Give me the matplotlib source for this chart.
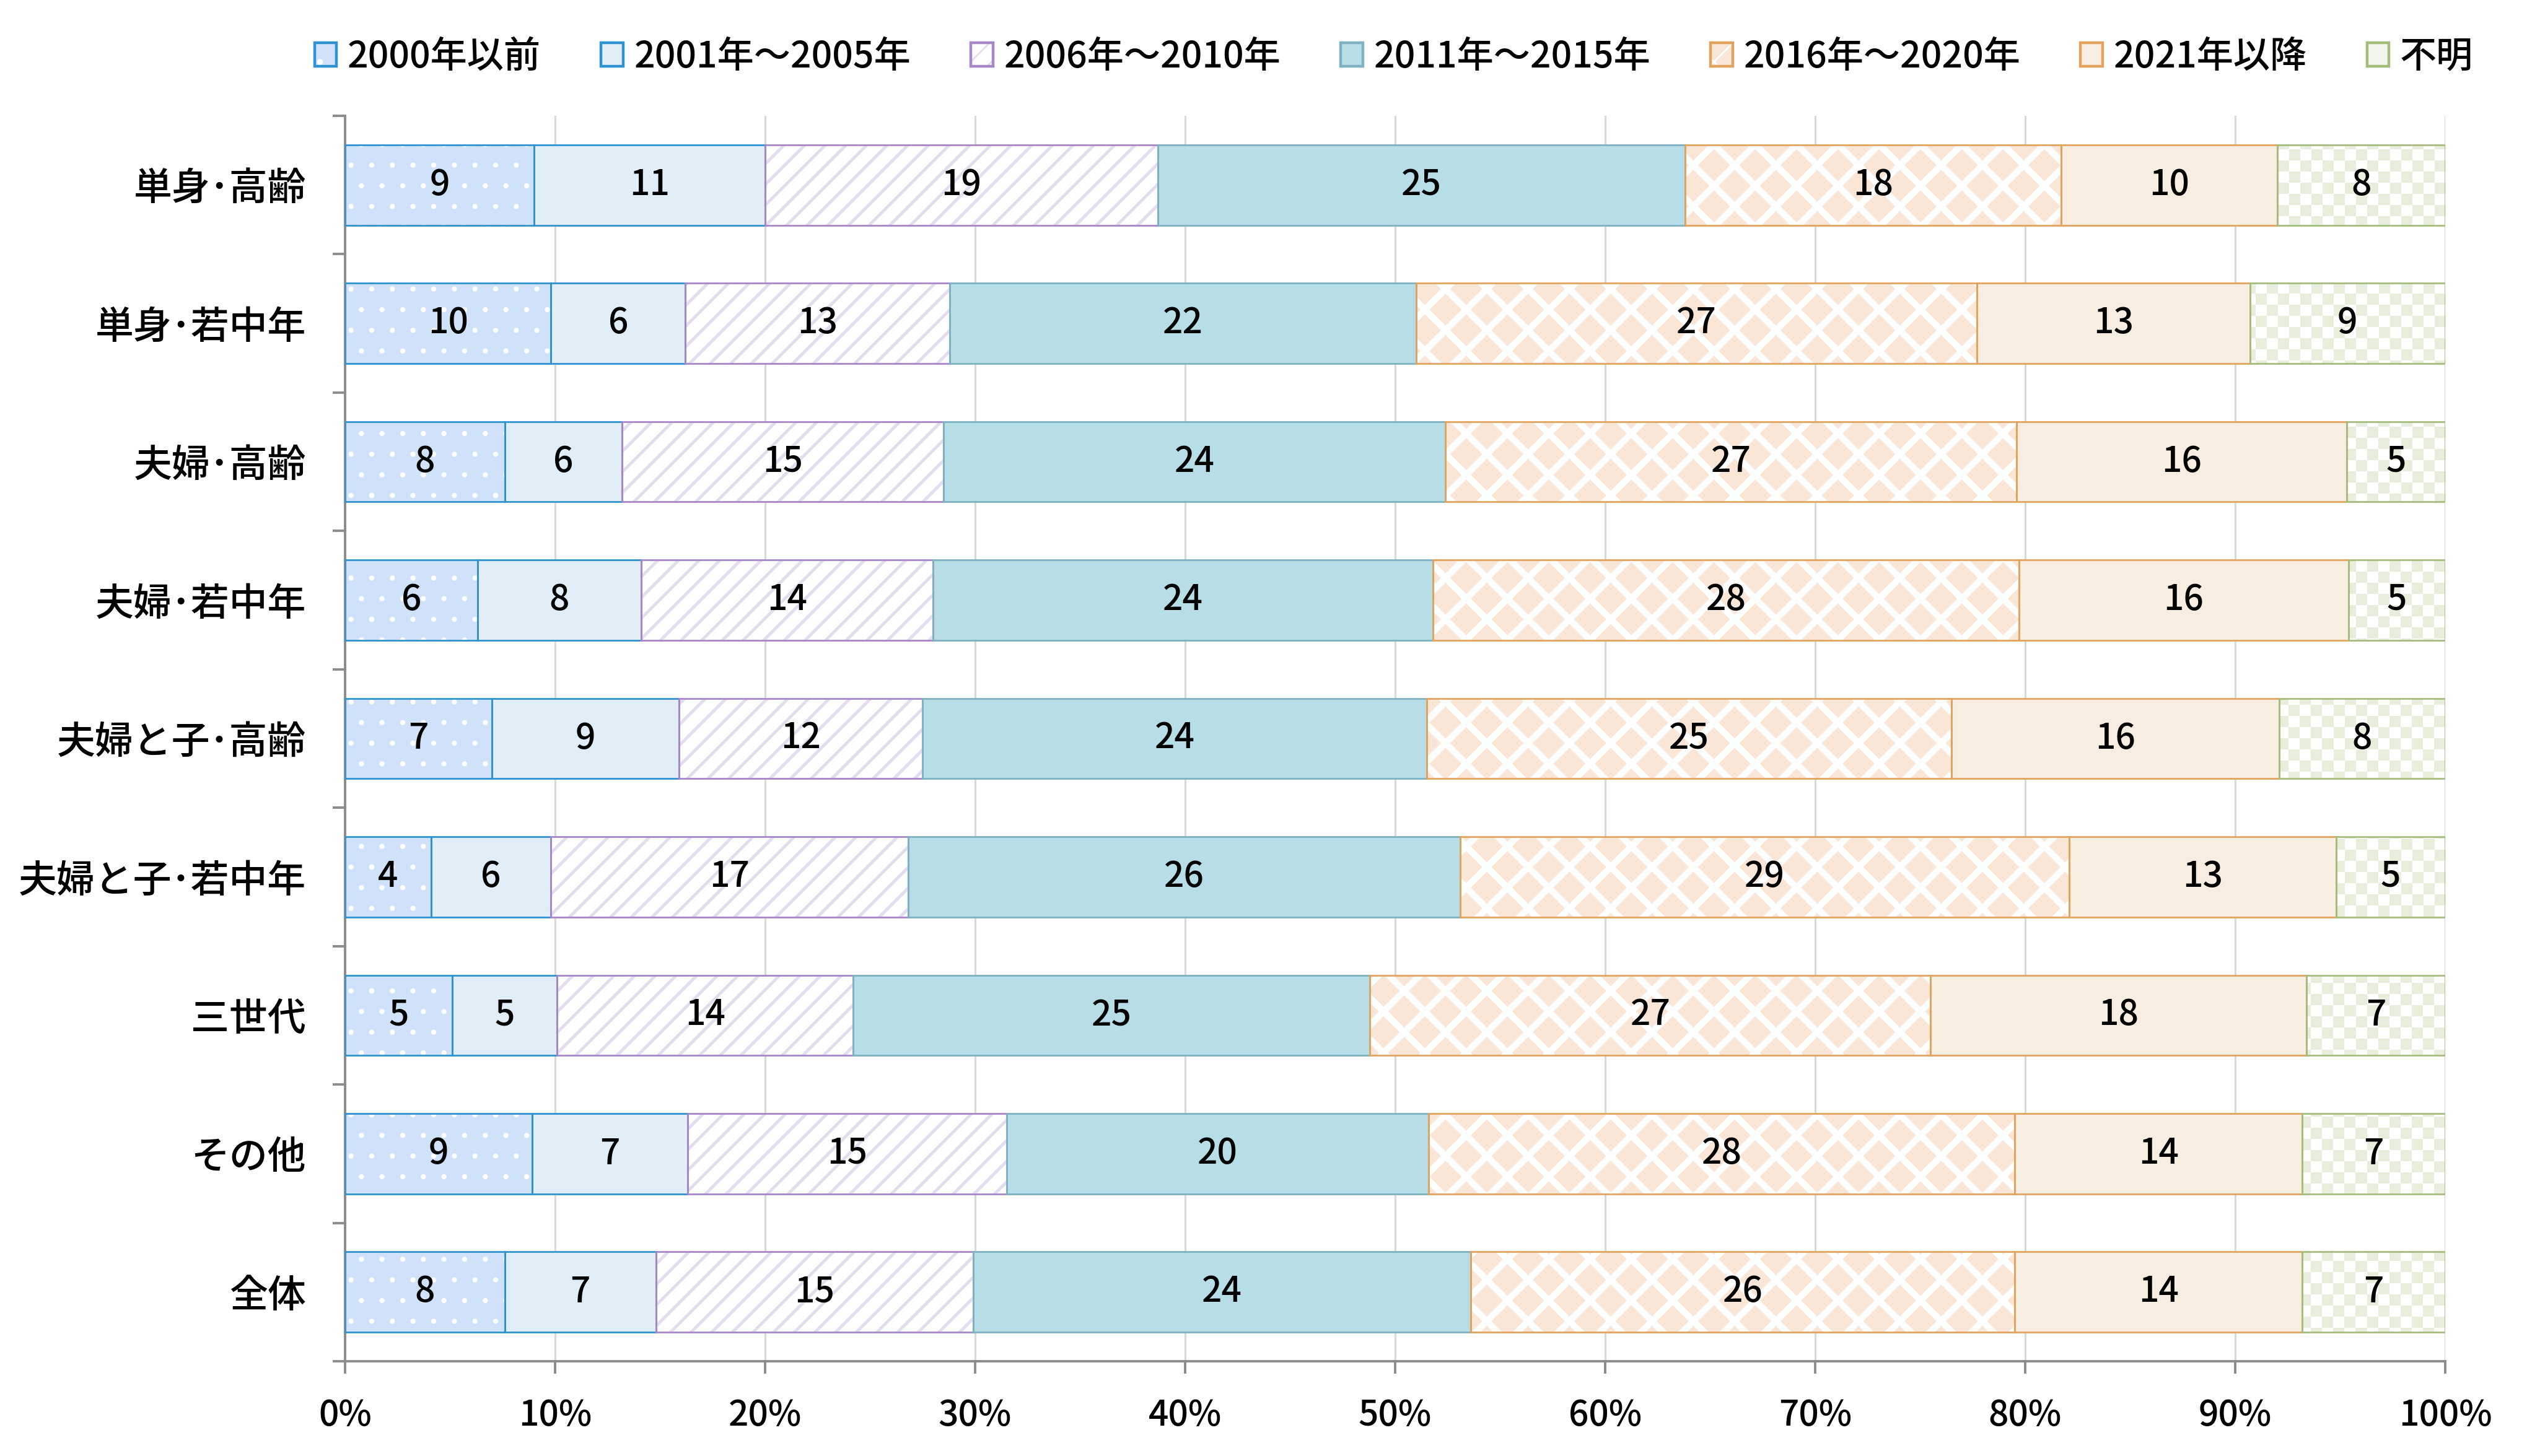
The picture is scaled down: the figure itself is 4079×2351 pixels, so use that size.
import numpy as np
import matplotlib
matplotlib.use('Agg')
import matplotlib.pyplot as plt
from matplotlib.patches import Patch
from matplotlib.legend_handler import HandlerTuple
from matplotlib.colors import to_rgb

plt.rcParams['font.family'] = ['Noto Sans CJK JP', 'DejaVu Sans']

# ---------------- data ----------------
categories = ['単身･高齢', '単身･若中年', '夫婦･高齢', '夫婦･若中年', '夫婦と子･高齢',
              '夫婦と子･若中年', '三世代', 'その他', '全体']
series_names = ['2000年以前', '2001年～2005年', '2006年～2010年', '2011年～2015年',
                '2016年～2020年', '2021年以降', '不明']
s2000 = [9.0, 9.8, 7.6, 6.3, 7.0, 4.1, 5.1, 8.9, 7.6]
s2001 = [11.0, 6.4, 5.6, 7.8, 8.9, 5.7, 5.0, 7.4, 7.2]
s2006 = [18.7, 12.6, 15.3, 13.9, 11.6, 17.0, 14.1, 15.2, 15.1]
s2011 = [25.1, 22.2, 23.9, 23.8, 24.0, 26.3, 24.6, 20.1, 23.7]
s2016 = [17.9, 26.7, 27.2, 27.9, 25.0, 29.0, 26.7, 27.9, 25.9]
s2021 = [10.3, 13.0, 15.7, 15.7, 15.6, 12.7, 17.9, 13.7, 13.7]
s_unknown = [8.0, 9.3, 4.7, 4.6, 7.9, 5.2, 6.6, 6.8, 6.8]
x_ticks = [0, 10, 20, 30, 40, 50, 60, 70, 80, 90, 100]
x_tick_labels = [f'{t}%' for t in x_ticks]

series_values = [s2000, s2001, s2006, s2011, s2016, s2021, s_unknown]

# ---------------- styles ----------------
# (face, hatch, hatch colour, hatch linewidth, border colour, legend face)
styles = [
    ('#cfe2fa', '.', '#ffffff', 0.6, '#2f93d1', '#cfe2fa'),
    ('#e1eef8', None, None, 0, '#2f93d1', '#e1eef8'),
    ('#ffffff', '//', '#e4ddef', 1.8, '#a886c9', '#ffffff'),
    ('#b7dde7', None, None, 0, '#7cb2c2', '#b7dde7'),
    ('#f9e6d6', 'x', '#ffffff', 3.8, '#e3a35c', '#fdf3ea'),
    ('#f7ede1', None, None, 0, '#e3a35c', '#f7ede1'),
    ('#ffffff', 'checker', '#e7eedb', 0, '#a4bd7c', '#f2f6ec'),
]

W, H, DPI = 4079, 2351, 200
fig = plt.figure(figsize=(W / DPI, H / DPI), dpi=DPI)
ax = fig.add_axes([557 / W, 1 - 2198 / H, (3947 - 557) / W, (2198 - 187) / H])

FS_NUM = 20.5
FS_CAT = 22.3
FS_LEG = 21.3
WEIGHT = 'medium'
n = len(categories)
y = np.arange(n)
bar_h = 0.58
left = np.zeros(n)
gray = '#8c8c8c'

ax.set_xlim(0, 100)
ax.set_ylim(n - 0.5, -0.5)

legend_handles = []
for vals, name, (face, hatch, hcol, hlw, border, lface) in zip(series_values, series_names, styles):
    vals = np.array(vals)
    if hatch is not None and hatch != 'checker':
        with plt.rc_context({'hatch.linewidth': hlw}):
            fill = ax.barh(y, vals, left=left, height=bar_h, color=face,
                           edgecolor=hcol, linewidth=0, hatch=hatch, zorder=2)
        for p in fill.patches:
            if hasattr(p, 'set_hatch_linewidth'):
                p.set_hatch_linewidth(hlw)
    else:
        fill = ax.barh(y, vals, left=left, height=bar_h, color=face,
                       linewidth=0, zorder=2)
    if hatch == 'checker':
        ny, nx = 112, 188
        ii, jj = np.mgrid[0:ny, 0:nx]
        mask = ((ii + jj) % 2).astype(float)[..., None]
        c1 = np.array(to_rgb(hcol))
        c0 = np.array([1.0, 1.0, 1.0])
        img = mask * c1 + (1 - mask) * c0
        for p in fill.patches:
            im = ax.imshow(img, extent=(0, 100, n - 0.5, -0.5), aspect='auto',
                           interpolation='nearest', zorder=2.5)
            im.set_clip_path(p)
    ax.barh(y, vals, left=left, height=bar_h, facecolor='none',
            edgecolor=border, linewidth=1.0, zorder=3)
    for yi, l, v in zip(y, left, vals):
        ax.text(l + v / 2, yi, f'{round(v)}', ha='center', va='center',
                fontsize=FS_NUM, fontweight=WEIGHT, color='black', zorder=4)
    left = left + vals

    # legend proxy
    if hatch is not None and hatch != 'checker':
        with plt.rc_context({'hatch.linewidth': hlw}):
            ph = Patch(facecolor=face, edgecolor=hcol, linewidth=0, hatch=hatch)
        if hasattr(ph, 'set_hatch_linewidth'):
            ph.set_hatch_linewidth(hlw)
    else:
        ph = Patch(facecolor=lface, linewidth=0)
    pb = Patch(facecolor='none', edgecolor=border, linewidth=1.6)
    legend_handles.append((ph, pb))

ax.set_xlim(0, 100)
ax.set_ylim(n - 0.5, -0.5)

# axes styling
ax.set_axisbelow(True)
ax.xaxis.grid(True, color='#d9d9d9', linewidth=1.1, zorder=0)
ax.yaxis.grid(False)
for s in ['top', 'right']:
    ax.spines[s].set_visible(False)
for s in ['left', 'bottom']:
    ax.spines[s].set_color(gray)
    ax.spines[s].set_linewidth(1.4)

ax.set_xticks(x_ticks)
ax.set_xticklabels(x_tick_labels, fontsize=FS_NUM, fontweight=WEIGHT)
ax.tick_params(axis='x', direction='out', length=7.2, width=1.4, color=gray, pad=14)

ax.set_yticks(y)
ax.set_yticklabels(categories, fontsize=FS_CAT, fontweight=WEIGHT)
ax.tick_params(axis='y', which='major', length=0, pad=22.7)
ax.set_yticks(np.arange(-0.5, n + 0.5, 1), minor=True)
ax.tick_params(axis='y', which='minor', direction='out', length=7.2, width=1.4, color=gray)

fig.legend(legend_handles, series_names, loc='center',
           bbox_to_anchor=(2250 / W, 1 - 92 / H), ncol=7, frameon=False,
           handlelength=0.6, handleheight=0.62, handletextpad=0.3,
           columnspacing=1.64, borderaxespad=0,
           prop={'size': FS_LEG, 'weight': WEIGHT},
           handler_map={tuple: HandlerTuple(ndivide=1)})

fig.savefig('out.png', dpi=DPI)
